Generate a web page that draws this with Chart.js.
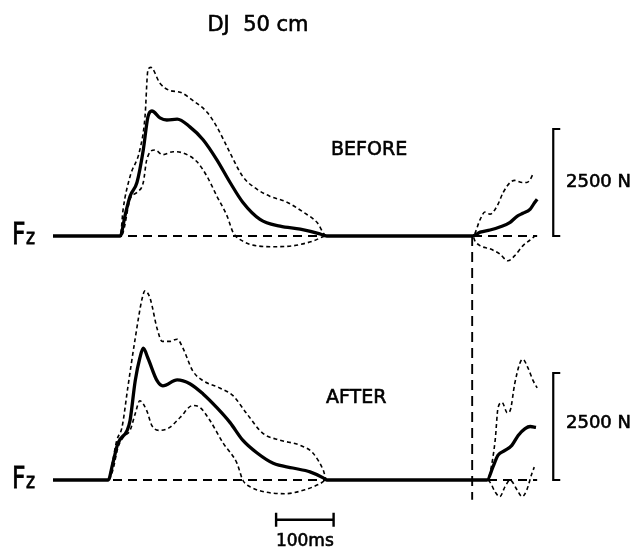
<!DOCTYPE html>
<html>
<head>
<meta charset="utf-8">
<script src="https://cdn.jsdelivr.net/npm/chart.js@4.4.1/dist/chart.umd.min.js"></script>
<style>
  html, body { margin: 0; padding: 0; background: #fff; }
  #wrap { position: relative; width: 642px; height: 548px; }
</style>
</head>
<body>
<div id="wrap"><canvas id="myChart"></canvas></div>
<script>
// [time ms, vertical force N], drop jump 50 cm
const beforeMean = [[0,0],[117,0],[125,460],[134,930],[146,1250],[157,2010],[165,2780],[172,2920],[186,2760],[198,2710],[216,2730],[238,2550],[261,2250],[285,1780],[308,1250],[330,790],[360,390],[395,230],[430,160],[464,50],[476,0],[730,0],[743,90],[760,140],[777,210],[795,320],[807,460],[817,530],[830,630],[838,790],[842,860]];
const beforeUpper = [[0,0],[117,0],[122,630],[134,1390],[151,2010],[160,2780],[165,3870],[170,3940],[186,3570],[203,3400],[221,3360],[243,3170],[268,2890],[285,2550],[308,1940],[330,1390],[355,1090],[377,930],[407,790],[435,560],[459,320],[476,0],[730,0],[743,390],[751,560],[760,510],[772,690],[783,1020],[795,1250],[803,1300],[816,1250],[824,1250],[830,1320],[835,1460]];
const beforeLower = [[0,0],[117,0],[122,90],[134,860],[146,1020],[157,1250],[163,1780],[177,2010],[191,1900],[209,1970],[226,1940],[250,1740],[268,1390],[285,930],[303,460],[313,90],[330,-120],[355,-230],[383,-250],[417,-230],[452,-120],[476,0],[730,0],[734,-120],[743,-230],[760,-300],[777,-420],[791,-580],[803,-460],[817,-230],[830,-90],[838,0]];

const afterMean = [[0,0],[96,0],[104,390],[113,860],[129,1160],[134,1390],[143,2320],[151,2850],[157,3080],[165,2850],[181,2320],[191,2200],[216,2340],[238,2250],[261,2010],[285,1690],[308,1340],[330,930],[355,630],[383,390],[417,280],[447,190],[470,50],[476,0],[755,0],[765,300],[774,580],[786,690],[798,810],[809,1040],[821,1200],[830,1250],[840,1230]];
const afterUpper = [[0,0],[96,0],[103,390],[111,930],[120,1230],[130,2150],[143,3310],[155,4240],[160,4420],[169,4240],[181,3540],[190,3240],[203,3240],[216,3290],[226,3080],[243,2550],[261,2320],[290,2150],[313,1970],[337,1550],[365,1090],[395,930],[430,810],[452,630],[470,230],[476,0],[755,0],[760,160],[769,930],[774,1690],[781,1810],[790,1570],[795,1620],[803,2250],[812,2730],[817,2820],[826,2620],[835,2320],[842,2150]];
const afterLower = [[0,0],[96,0],[104,230],[113,760],[122,1000],[134,1160],[143,1550],[151,1850],[163,1620],[172,1270],[186,1160],[203,1230],[221,1460],[243,1740],[256,1690],[273,1390],[296,860],[320,390],[330,0],[343,-160],[369,-280],[403,-320],[438,-230],[464,-90],[476,0],[755,0],[760,-50],[769,-280],[777,-390],[786,-160],[795,0],[807,-230],[816,-390],[824,-230],[833,160],[837,300]];

const baseEnd = 842;
const contactTime = 729;
const timeBar = [388, 488];   // 100 ms
const forceBar = 2500;        // N
const barTime = 870;

// layout (px)
const W = 642, H = 548;
const x0 = 53, msPerPx = 100 / 57.5, nPerPx = 2500 / 107;
const baseTop = 236, baseBot = 480;

const pts = a => a.map(p => ({ x: p[0], y: p[1] }));

function mean(d, axis) {
  return { data: pts(d), yAxisID: axis, borderColor: '#000', borderWidth: 3.3,
    cubicInterpolationMode: 'monotone', pointRadius: 0, order: 0 };
}
function sd(d, axis) {
  return { data: pts(d), yAxisID: axis, borderColor: '#000', borderWidth: 1.6,
    borderDash: [4, 3], cubicInterpolationMode: 'monotone', pointRadius: 0, order: 1 };
}
function zero(axis) {
  return { data: pts([[0, 0], [baseEnd, 0]]), yAxisID: axis, borderColor: '#000',
    borderWidth: 1.9, borderDash: [9, 6], pointRadius: 0, order: 2 };
}

function label(c, txt, x, y) {
  c.fillText(txt, x, y);
  c.strokeText(txt, x, y);
}

const annotations = {
  id: 'annotations',
  afterDatasetsDraw(chart) {
    const c = chart.ctx, sx = chart.scales.x, yt = chart.scales.yTop, yb = chart.scales.yBot;
    c.save();
    c.fillStyle = '#000';
    c.strokeStyle = '#000';

    // contact line
    const xc = sx.getPixelForValue(contactTime);
    c.lineWidth = 1.9;
    c.setLineDash([10, 6]);
    c.beginPath();
    c.moveTo(xc, yt.getPixelForValue(0));
    c.lineTo(xc, yb.getPixelForValue(-460));
    c.stroke();
    c.setLineDash([]);

    // force brackets
    c.lineWidth = 2.2;
    const xb = sx.getPixelForValue(barTime);
    [yt, yb].forEach(ys => {
      const a = ys.getPixelForValue(forceBar), b = ys.getPixelForValue(0);
      c.beginPath();
      c.moveTo(xb + 7, a); c.lineTo(xb, a); c.lineTo(xb, b); c.lineTo(xb + 7, b);
      c.stroke();
    });

    // time bar
    const t1 = sx.getPixelForValue(timeBar[0]), t2 = sx.getPixelForValue(timeBar[1]);
    const ty = yb.getPixelForValue(-930);
    c.lineWidth = 2.4;
    c.beginPath();
    c.moveTo(t1, ty); c.lineTo(t2, ty);
    c.moveTo(t1, ty - 7); c.lineTo(t1, ty + 7);
    c.moveTo(t2, ty - 7); c.lineTo(t2, ty + 7);
    c.stroke();

    c.lineWidth = 0.6;
    c.textBaseline = 'middle';
    c.textAlign = 'center';
    c.font = '21px "DejaVu Sans"';
    label(c, 'DJ  50 cm', 258, 26);
    c.font = '17px "DejaVu Sans"';
    label(c, '100ms', (t1 + t2) / 2, 542);

    c.textAlign = 'left';
    c.font = '19px "DejaVu Sans"';
    label(c, 'BEFORE', 331, 150);
    label(c, 'AFTER', 326, 398);
    c.font = '18px "DejaVu Sans"';
    label(c, '2500 N', 566, 182);
    label(c, '2500 N', 566, 423);

    // Fz labels
    c.textBaseline = 'alphabetic';
    [baseTop, baseBot].forEach(y => {
      c.save();
      c.translate(12, y + 8);
      c.scale(0.78, 1);
      c.lineWidth = 0.8;
      c.font = '30px "DejaVu Sans"';
      label(c, 'F', 0, 0);
      c.font = '22px "DejaVu Sans"';
      label(c, 'z', 18, 0);
      c.restore();
    });
    c.restore();
  }
};

new Chart(document.getElementById('myChart'), {
  type: 'line',
  data: {
    datasets: [
      mean(beforeMean, 'yTop'), sd(beforeUpper, 'yTop'), sd(beforeLower, 'yTop'), zero('yTop'),
      mean(afterMean, 'yBot'), sd(afterUpper, 'yBot'), sd(afterLower, 'yBot'), zero('yBot')
    ]
  },
  options: {
    responsive: true,
    maintainAspectRatio: false,
    animation: false,
    layout: { padding: 0 },
    plugins: { legend: { display: false }, tooltip: { enabled: false } },
    scales: {
      x: { type: 'linear', display: false, min: -x0 * msPerPx, max: (W - x0) * msPerPx },
      yTop: { display: false, min: -(H - baseTop) * nPerPx, max: baseTop * nPerPx },
      yBot: { display: false, min: -(H - baseBot) * nPerPx, max: baseBot * nPerPx }
    }
  },
  plugins: [annotations]
});
</script>
</body>
</html>
